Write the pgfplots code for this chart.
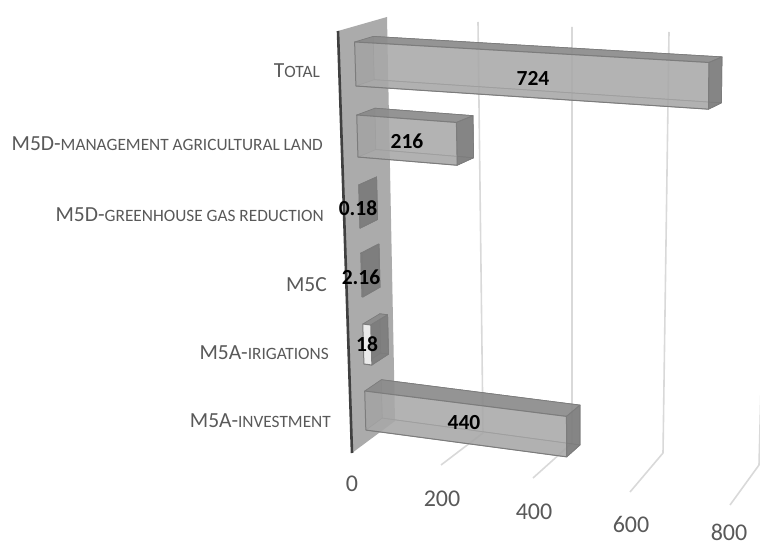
\documentclass[border=0pt]{standalone}
\usepackage{pgfplots}
\pgfplotsset{compat=1.18}
\usepackage{fontspec}
\setmainfont{Carlito}

\definecolor{labelgrey}{HTML}{595959}
\definecolor{gridgrey}{HTML}{D9D9D9}
\definecolor{wallgrey}{HTML}{ABABAB}
\definecolor{walledge}{HTML}{404040}
\definecolor{barfront}{HTML}{A8A8A8}
\definecolor{bartop}{HTML}{8C8C8C}
\definecolor{barside}{HTML}{7C7C7C}
\definecolor{baredge}{HTML}{7C7C7C}

% Projection of a bar corner: value, height along the wall (0..1), depth (0..1)
\newcommand\projx[3]{((1-(#3))*(352-14*(#2))+(#3)*(395-8*(#2))+(#1)*(0.4358+0.0000458*(#1))*(1+0.045*(#2))*(1+0.04*(0.33-(#3))))}
\newcommand\projy[3]{((1-(#3))*(453-422*(#2))+(#3)*(421-404*(#2))+(#1)*(0.062-0.035*(#2)))}

\newcommand\boxface[2]{%
  \addplot[#1] table[row sep=\\,
    x expr={\projx{\thisrow{v}}{\thisrow{h}}{\thisrow{d}}},
    y expr={\projy{\thisrow{v}}{\thisrow{h}}{\thisrow{d}}}]
    {v h d\\ #2};
}
% One 3D bar: front colour, front opacity, value, lower and upper height
\newcommand\barbox[5]{%
  \boxface{fill=barfront,fill opacity=.35,draw=baredge,line width=.7pt}
    {0 #4 .71\\ #3 #4 .71\\ #3 #5 .71\\ 0 #5 .71\\ 0 #4 .71\\}
  \boxface{fill=barfront,fill opacity=.5,draw=baredge,line width=.7pt}
    {0 #4 .33\\ #3 #4 .33\\ #3 #4 .71\\ 0 #4 .71\\ 0 #4 .33\\}
  \boxface{fill=barside,fill opacity=.45,draw=none}
    {0 #4 .33\\ 0 #5 .33\\ 0 #5 .71\\ 0 #4 .71\\ 0 #4 .33\\}
  \boxface{fill=bartop,fill opacity=.9,draw=baredge,line width=.7pt}
    {0 #5 .33\\ #3 #5 .33\\ #3 #5 .71\\ 0 #5 .71\\ 0 #5 .33\\}
  \boxface{fill=barside,fill opacity=.9,draw=baredge,line width=.7pt}
    {#3 #4 .33\\ #3 #4 .71\\ #3 #5 .71\\ #3 #5 .33\\ #3 #4 .33\\}
  \boxface{fill=#1,fill opacity=#2,draw=baredge,line width=1pt}
    {0 #4 .33\\ #3 #4 .33\\ #3 #5 .33\\ 0 #5 .33\\ 0 #4 .33\\}
}
% Capitals followed by smaller capitals
\newcommand\capssmall[2]{{\fontsize{21.5}{21.5}\selectfont #1}{\fontsize{17.3}{17.3}\selectfont #2}}

\begin{document}
\begin{tikzpicture}
\begin{axis}[
  scale only axis, width=760pt, height=545pt,
  xmin=0, xmax=760, ymin=0, ymax=545, y dir=reverse,
  hide axis, clip=true, line join=round,
]
\path (axis cs:0,0) rectangle (axis cs:760,545);

% Gridlines: floor and back wall at 200, 400, 600, 800
\addplot[gridgrey,line width=1.6pt] coordinates {(441,465) (483,433) (478,22)};
\addplot[gridgrey,line width=1.6pt] coordinates {(533,478) (572,443) (572,27)};
\addplot[gridgrey,line width=1.6pt] coordinates {(630,492) (663,453) (669,32)};
\addplot[gridgrey,line width=1.6pt] coordinates {(730,505) (759,465) (770,37)};

% Side wall of the category axis
\addplot[fill=wallgrey,draw=none] coordinates {(338,31) (387,17) (395,421) (352,453) (338,31)};
\addplot[walledge,line width=2.6pt] coordinates {(338,31) (352,453)};

% Bars from bottom to top: value, lower and upper height
\barbox{barfront}{.8}{440}{0.0298}{0.1236}
\barbox{white!92!black}{1}{18}{0.1885}{0.2846}
\barbox{barside}{.9}{2.16}{0.350}{0.455}
\barbox{barside}{.9}{0.18}{0.515}{0.619}
\barbox{barfront}{.8}{216}{0.686}{0.787}
\barbox{barfront}{.8}{724}{0.8567}{0.9625}

% Value labels
\begin{scope}[every node/.style={font=\fontsize{21.5}{21.5}\selectfont\bfseries,text=black,inner sep=0pt}]
\node at (axis cs:533,78) {724};
\node at (axis cs:407,141) {216};
\node at (axis cs:358,208) {0.18};
\node at (axis cs:361,277) {2.16};
\node at (axis cs:367,344) {18};
\node at (axis cs:464,423) {440};
\end{scope}

% Category labels
\begin{scope}[every node/.style={text=labelgrey,anchor=east,inner sep=0pt}]
\node at (axis cs:320,71) {\capssmall{T}{OTAL}};
\node at (axis cs:323,144) {\capssmall{M5D-}{MANAGEMENT AGRICULTURAL LAND}};
\node at (axis cs:324,215) {\capssmall{M5D-}{GREENHOUSE GAS REDUCTION}};
\node at (axis cs:327,285) {\capssmall{M5C}{}};
\node at (axis cs:329,353) {\capssmall{M5A-}{IRIGATIONS}};
\node at (axis cs:331,421) {\capssmall{M5A-}{INVESTMENT}};
\end{scope}

% Value axis tick labels
\begin{scope}[every node/.style={font=\fontsize{24}{24}\selectfont,text=labelgrey,inner sep=0pt}]
\node at (axis cs:352,484) {0};
\node at (axis cs:442,499) {200};
\node at (axis cs:534,512) {400};
\node at (axis cs:631,524) {600};
\node at (axis cs:729,532) {800};
\end{scope}
\end{axis}
\end{tikzpicture}
\end{document}
